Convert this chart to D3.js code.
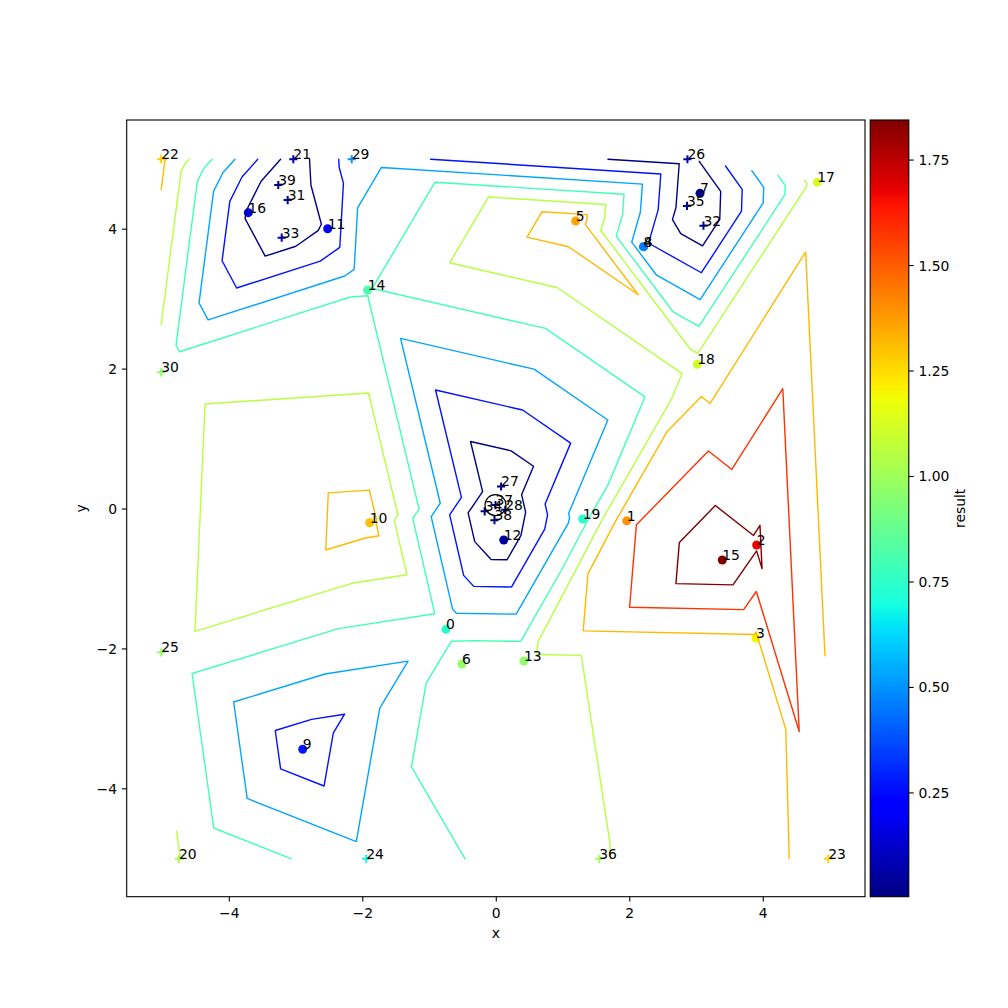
<!DOCTYPE html>
<html><head><meta charset="utf-8">
<script src="https://cdn.jsdelivr.net/npm/d3@7"></script>
<style>
body{margin:0;background:#fff}
text{font-family:"DejaVu Sans",sans-serif;fill:#000}
</style>
</head><body>
<svg id="c" width="1008" height="1008"></svg>
<script>
// ---------------- data ----------------
const pointIds = d3.range(40);
const xs = [-0.754, 1.955, 3.901, 3.891, 2.207, 1.190, -0.514, 3.052, 2.207, -2.900,
            -1.897, -2.526, 0.112, 0.415, -1.927, 3.386, -3.715, 4.809, 3.011, 1.294,
            -4.754, -3.041, -5.020, 4.974, -1.948, -5.020, 2.864, 0.072, 0.135, -2.166,
            -5.020, -3.125, 3.104, -3.215, -0.174, 2.857, 1.543, -0.012, -0.027, -3.266];
const ys = [-1.720, -0.169, -0.515, -1.848, 3.750, 4.117, -2.216, 4.513, 3.750, -3.435,
            -0.196, 4.007, -0.443, -2.173, 3.131, -0.729, 4.236, 4.670, 2.069, -0.143,
            -5.000, 5.000, 5.000, -5.000, -5.000, -2.049, 5.000, 0.322, -0.011, 5.000,
            1.954, 4.417, 4.050, 3.879, -0.033, 4.332, -5.000, 0.056, -0.159, 4.632];
const results = [0.74, 1.39, 1.67, 1.20, 0.46, 1.36, 0.98, 0.012, 0.46, 0.278,
                 1.30, 0.24, 0.06, 0.97, 0.81, 1.845, 0.18, 1.127, 1.11, 0.74,
                 1.035, 0.095, 1.277, 1.276, 0.681, 0.974, 0.117, 0.03, 0.019, 0.504,
                 0.954, 0.04, 0.055, 0.09, 0.025, 0.082, 1.014, 0.004, 0.02, 0.025];
const markerKinds = pointIds.map(i => i < 20 ? "o" : "+");
const contourLevels = [0.2086, 0.4131, 0.6177, 0.8222, 1.0268, 1.2313, 1.4359, 1.6404];
const xTicks = [-4, -2, 0, 2, 4];
const yTicks = [-4, -2, 0, 2, 4];
const cbarTicks = [0.25, 0.50, 0.75, 1.00, 1.25, 1.50, 1.75];
const bestIndex = 37;

// ---------------- helpers ----------------
const jetSeg = {
  r: [[0,0],[0.35,0],[0.66,1],[0.89,1],[1,0.5]],
  g: [[0,0],[0.125,0],[0.375,1],[0.64,1],[0.91,0],[1,0]],
  b: [[0,0.5],[0.11,1],[0.34,1],[0.65,0],[1,0]]
};
function segVal(seg, t){
  for (let i=1;i<seg.length;i++){
    if (t <= seg[i][0]){
      const [x0,y0]=seg[i-1],[x1,y1]=seg[i];
      return y0 + (y1-y0)*(t-x0)/(x1-x0);
    }
  }
  return seg[seg.length-1][1];
}
function jet(t){
  t = Math.max(0, Math.min(1, t));
  const c = k => Math.round(255*segVal(jetSeg[k], t));
  return `rgb(${c("r")},${c("g")},${c("b")})`;
}

const svg = d3.select("#c");
svg.append("rect").attr("width",1008).attr("height",1008).attr("fill","#fff");

const axL=126.7, axR=865, axT=120, axB=896.7;
const x = d3.scaleLinear().domain([-5.537, 5.524]).range([axL, axR]);
const y = d3.scaleLinear().domain([-5.542, 5.561]).range([axB, axT]);
const zMin = d3.min(results), zMax = d3.max(results);
const cnorm = d3.scaleLinear().domain([zMin, zMax]).range([0,1]).clamp(true);
const FS = 13.9;

svg.append("defs").append("clipPath").attr("id","clip")
  .append("rect").attr("x",axL).attr("y",axT).attr("width",axR-axL).attr("height",axB-axT);

// ---------------- scatter ----------------
const gPts = svg.append("g").attr("clip-path","url(#clip)");
pointIds.forEach(i => {
  const px = x(xs[i]), py = y(ys[i]), col = jet(cnorm(results[i]));
  if (markerKinds[i] === "o") {
    gPts.append("circle").attr("cx",px).attr("cy",py).attr("r",4.5).attr("fill",col);
  } else {
    const h = 4.1;
    gPts.append("path").attr("d",`M${px-h},${py}H${px+h}M${px},${py-h}V${py+h}`)
      .attr("stroke",col).attr("stroke-width",2).attr("fill","none");
  }
});

// ---------------- tricontour (Delaunay + marching triangles) ----------------
const pts = xs.map((v,i)=>[v, ys[i]]);
const delaunay = d3.Delaunay.from(pts);
const T = delaunay.triangles;
const tris = [];
for (let t=0;t<T.length;t+=3){
  const a=T[t], b=T[t+1], c=T[t+2];
  const area = (xs[b]-xs[a])*(ys[c]-ys[a]) - (xs[c]-xs[a])*(ys[b]-ys[a]);
  if (Math.abs(area) > 1e-9) tris.push([a,b,c]);
}
function levelSegments(L){
  const segs=[];
  tris.forEach(([a,b,c])=>{
    const cross=[];
    [[a,b],[b,c],[c,a]].forEach(([i,j])=>{
      const ai = results[i] > L, aj = results[j] > L;
      if (ai !== aj){
        const t = (L - results[i])/(results[j]-results[i]);
        cross.push({k: Math.min(i,j)+"-"+Math.max(i,j),
                    p: [xs[i]+t*(xs[j]-xs[i]), ys[i]+t*(ys[j]-ys[i])]});
      }
    });
    if (cross.length===2) segs.push({k1:cross[0].k,p1:cross[0].p,k2:cross[1].k,p2:cross[1].p});
  });
  return segs;
}
function chain(segs){
  const byKey=new Map();
  segs.forEach((s,idx)=>[s.k1,s.k2].forEach(k=>{ if(!byKey.has(k)) byKey.set(k,[]); byKey.get(k).push(idx); }));
  const used=new Array(segs.length).fill(false);
  const lines=[];
  function walk(startIdx,startKey){
    let idx=startIdx, key=startKey;
    const s0=segs[idx];
    const line=[key===s0.k1?s0.p1:s0.p2];
    while(idx!==undefined && !used[idx]){
      used[idx]=true;
      const s=segs[idx];
      const ok = key===s.k1 ? s.k2 : s.k1;
      const op = key===s.k1 ? s.p2 : s.p1;
      line.push(op);
      idx = byKey.get(ok).find(j=>j!==idx && !used[j]);
      key = ok;
    }
    return line;
  }
  byKey.forEach((arr,k)=>{ if(arr.length===1 && !used[arr[0]]) lines.push(walk(arr[0],k)); });
  segs.forEach((s,i)=>{ if(!used[i]) lines.push(walk(i,s.k1)); });
  return lines;
}
const lineGen = d3.line().x(d=>x(d[0])).y(d=>y(d[1]));
const gC = svg.append("g").attr("clip-path","url(#clip)");
contourLevels.forEach((L,li)=>{
  const col = jet(li/(contourLevels.length-1));
  chain(levelSegments(L)).forEach(line=>{
    gC.append("path").attr("d",lineGen(line)).attr("fill","none")
      .attr("stroke",col).attr("stroke-width",1.4)
      .attr("stroke-linejoin","round").attr("stroke-linecap","round");
  });
});

// best point ring
svg.append("circle").attr("cx",x(xs[bestIndex])).attr("cy",y(ys[bestIndex])).attr("r",10.5)
  .attr("fill","none").attr("stroke","#000").attr("stroke-width",1.2);

// labels
const gL = svg.append("g");
pointIds.forEach(i=>{
  gL.append("text").attr("x",x(xs[i])).attr("y",y(ys[i])).attr("font-size",FS).text(String(i));
});

// ---------------- axes ----------------
svg.append("rect").attr("x",axL).attr("y",axT).attr("width",axR-axL).attr("height",axB-axT)
  .attr("fill","none").attr("stroke","#000").attr("stroke-width",1.1);
const fmt = v => (v<0?"\u2212":"") + Math.abs(v);
xTicks.forEach(v=>{
  const px=x(v);
  svg.append("line").attr("x1",px).attr("x2",px).attr("y1",axB).attr("y2",axB+4.9).attr("stroke","#000").attr("stroke-width",1.1);
  svg.append("text").attr("x",px).attr("y",axB+20.8).attr("text-anchor","middle").attr("font-size",FS).text(fmt(v));
});
yTicks.forEach(v=>{
  const py=y(v);
  svg.append("line").attr("x1",axL-4.9).attr("x2",axL).attr("y1",py).attr("y2",py).attr("stroke","#000").attr("stroke-width",1.1);
  svg.append("text").attr("x",axL-9.7).attr("y",py+5).attr("text-anchor","end").attr("font-size",FS).text(fmt(v));
});
svg.append("text").attr("x",(axL+axR)/2).attr("y",937.5).attr("text-anchor","middle").attr("font-size",FS).text("x");
svg.append("text").attr("transform",`translate(86,${(axT+axB)/2}) rotate(-90)`).attr("text-anchor","middle").attr("font-size",FS).text("y");

// ---------------- colorbar ----------------
const cbL=870.2, cbR=908.8;
const cb = d3.scaleLinear().domain([zMin,zMax]).range([axB,axT]);
const grad = svg.select("defs").append("linearGradient").attr("id","jetg")
  .attr("x1",0).attr("y1",1).attr("x2",0).attr("y2",0);
[0,0.11,0.125,0.34,0.35,0.375,0.64,0.65,0.66,0.89,0.91,1].forEach(t=>{
  grad.append("stop").attr("offset",t).attr("stop-color",jet(t));
});
svg.append("rect").attr("x",cbL).attr("y",axT).attr("width",cbR-cbL).attr("height",axB-axT)
  .attr("fill","url(#jetg)").attr("stroke","#000").attr("stroke-width",1.1);
cbarTicks.forEach(v=>{
  const py=cb(v);
  svg.append("line").attr("x1",cbR).attr("x2",cbR+4.9).attr("y1",py).attr("y2",py).attr("stroke","#000").attr("stroke-width",1.1);
  svg.append("text").attr("x",cbR+9.7).attr("y",py+5).attr("font-size",FS).text(v.toFixed(2));
});
svg.append("text").attr("transform",`translate(965,${(axT+axB)/2}) rotate(-90)`).attr("text-anchor","middle").attr("font-size",FS).text("result");
</script>
</body></html>
